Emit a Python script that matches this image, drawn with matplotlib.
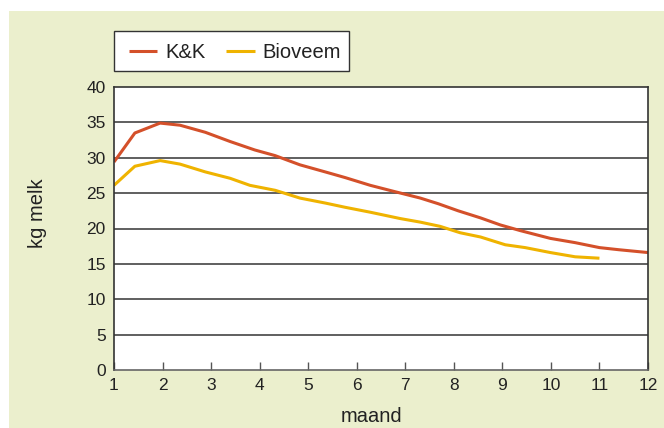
import matplotlib
matplotlib.use("Agg")
import matplotlib.pyplot as plt
from matplotlib.patches import Rectangle
from matplotlib.lines import Line2D

kk_x = [1.0, 1.43, 1.95, 2.36, 2.88, 3.39, 3.9, 4.32, 4.83, 5.35, 5.76, 6.28, 6.79, 7.31,
        7.68, 8.09, 8.55, 8.96, 9.37, 9.99, 10.5, 11.0, 11.4, 12.0]
kk_y = [29.4, 33.5, 34.9, 34.6, 33.6, 32.3, 31.1, 30.3, 29.0, 28.0, 27.2, 26.1, 25.2, 24.3,
        23.5, 22.5, 21.5, 20.5, 19.7, 18.6, 18.0, 17.3, 17.0, 16.6]
bio_x = [1.0, 1.43, 1.95, 2.36, 2.88, 3.39, 3.8, 4.32, 4.83, 5.35, 5.76, 6.28, 6.9, 7.31,
         7.72, 8.13, 8.55, 9.06, 9.47, 9.99, 10.5, 11.0]
bio_y = [26.1, 28.8, 29.6, 29.1, 28.0, 27.1, 26.1, 25.4, 24.3, 23.6, 23.0, 22.3, 21.4, 20.9,
         20.3, 19.4, 18.8, 17.7, 17.3, 16.6, 16.0, 15.8]
series_names = ["K&K", "Bioveem"]
x_ticks = list(range(1, 13))
y_ticks = [0, 5, 10, 15, 20, 25, 30, 35, 40]

BG = "#EBEFCD"
RED = "#D4502A"
YEL = "#EFB300"
TXT = "#222222"

plt.rcParams["font.family"] = ["Liberation Sans", "DejaVu Sans"]

W, H = 664, 428
fig = plt.figure(figsize=(W/100, H/100), dpi=100)

def fx(px):
    return px / W

def fy(py):
    return 1 - py / H

fig.patches.append(Rectangle((fx(9), 0), 1, fy(11), transform=fig.transFigure,
                             facecolor=BG, edgecolor="none", zorder=-10))
ax = fig.add_axes([fx(114), fy(370), (648 - 114)/W, (370 - 87)/H])
ax.set_facecolor("white")

ax.plot(kk_x, kk_y, color=RED, lw=2.2, solid_capstyle="butt")
ax.plot(bio_x, bio_y, color=YEL, lw=2.2, solid_capstyle="butt")

ax.set_xlim(1, 12)
ax.set_ylim(0, 40)
ax.set_xticks(x_ticks)
ax.set_yticks(y_ticks)
for yv in y_ticks[1:-1]:
    ax.axhline(yv, color="#444444", lw=1.2, zorder=0.5)
for s in ax.spines.values():
    s.set_color("#333333")
    s.set_linewidth(1.2)
ax.spines["bottom"].set_color("#666666")
ax.tick_params(axis="x", direction="in", length=6, width=1, color="#555555",
               labelsize=12.5, labelcolor=TXT, pad=6)
ax.tick_params(axis="y", length=0, labelsize=12.5, labelcolor=TXT, pad=6)

fig.text(fx(372), fy(416), "maand", fontsize=14.5, color=TXT, ha="center", va="center")
fig.text(fx(37.5), fy(213), "kg melk", fontsize=14.5, color=TXT, ha="center", va="center",
         rotation=90)

# legend box
fig.patches.append(Rectangle((fx(114), fy(71)), (349 - 114)/W, (71 - 31)/H,
                             transform=fig.transFigure, facecolor="white",
                             edgecolor="#333333", lw=1.0, zorder=5))
ly = fy(51)
for (x0, x1, tx), name, col in zip([(129, 157, 165), (226, 255, 262)], series_names, [RED, YEL]):
    fig.lines.append(Line2D([fx(x0), fx(x1)], [ly, ly], transform=fig.transFigure,
                            color=col, lw=2.2, solid_capstyle="butt", zorder=6))
    fig.text(fx(tx), ly, name, fontsize=14.5, color=TXT, ha="left", va="center_baseline",
             zorder=6)

fig.savefig("out.png", dpi=100)
